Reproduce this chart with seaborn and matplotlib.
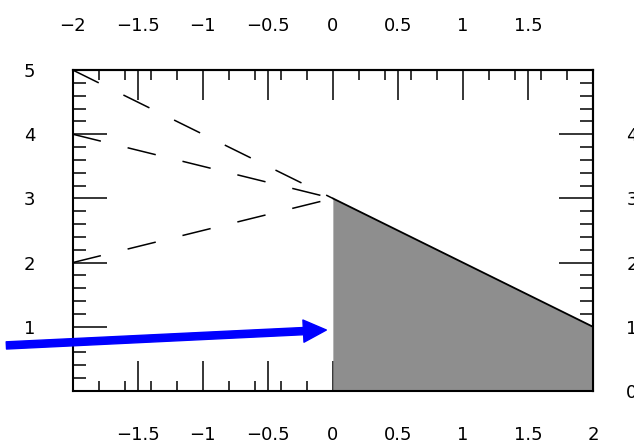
import matplotlib
matplotlib.use("Agg")
import matplotlib.pyplot as plt
import seaborn as sns
from matplotlib.ticker import MultipleLocator

# ---- data ----
x_upper = [-2.0, 0.0]
y_upper = [5.0, 3.0]
x_middle = [-2.0, 0.0]
y_middle = [4.0, 3.0]
x_lower = [-2.0, 0.0]
y_lower = [2.0, 3.0]
x_region = [0.0, 2.0]
y_region = [3.0, 1.0]

x_major = [-2, -1.5, -1, -0.5, 0, 0.5, 1, 1.5, 2]
y_major = [0, 1, 2, 3, 4, 5]
bottom_labels = [-1.5, -1, -0.5, 0, 0.5, 1, 1.5, 2]
top_labels = [-2, -1.5, -1, -0.5, 0, 0.5, 1, 1.5]
left_labels = [1, 2, 3, 4, 5]
right_labels = [0, 1, 2, 3, 4]

arrow_tail = (-2.51, 0.71)
arrow_head = (-0.05, 0.95)


def fmt(v):
    return f"{v:g}".replace("-", "\u2212")


def labels_for(ticks, shown):
    return [fmt(t) if t in shown else "" for t in ticks]


sns.set_style("white")
plt.rcParams["font.family"] = ["DejaVu Sans"]

fig = plt.figure(figsize=(6.34, 4.44), dpi=100)
ax = fig.add_axes([72.7 / 634, 1 - 391 / 444, (593 - 72.7) / 634, (391 - 70) / 444])
ax.set_xlim(-2, 2)
ax.set_ylim(0, 5)

dash = (0, (19, 18))
sns.lineplot(x=x_upper, y=y_upper, ax=ax, color="black", linewidth=1.1, linestyle=dash)
sns.lineplot(x=x_middle, y=y_middle, ax=ax, color="black", linewidth=1.1, linestyle=dash)
sns.lineplot(x=x_lower, y=y_lower, ax=ax, color="black", linewidth=1.1, linestyle=dash)

ax.fill_between(x_region, y_region, 0, color="#8e8e8e", linewidth=0, zorder=1)
sns.lineplot(x=x_region, y=y_region, ax=ax, color="black", linewidth=1.3)

ax.annotate("", xy=arrow_head, xytext=arrow_tail, xycoords="data", textcoords="data",
            annotation_clip=False,
            arrowprops=dict(arrowstyle="simple,head_width=1.6,head_length=1.65,tail_width=0.52",
                            mutation_scale=10, color="#0000ff", shrinkA=0, shrinkB=0))

for s in ax.spines.values():
    s.set_visible(True)
    s.set_linewidth(1.5)
    s.set_color("black")

label_font = 13
tick_w = 1.1

# bottom / left
ax.set_xticks(x_major, labels=labels_for(x_major, bottom_labels))
ax.set_yticks(y_major, labels=labels_for(y_major, left_labels))
ax.xaxis.set_minor_locator(MultipleLocator(0.2))
ax.yaxis.set_minor_locator(MultipleLocator(0.2))
ax.tick_params(axis="x", which="major", direction="in", length=21.6, width=tick_w,
               pad=25, labelsize=label_font, top=False, bottom=True, color="black",
               labelcolor="black")
ax.tick_params(axis="x", which="minor", direction="in", length=7.2, width=tick_w,
               top=False, bottom=True, color="black")
ax.tick_params(axis="y", which="major", direction="in", length=24.5, width=tick_w,
               pad=27, labelsize=label_font, left=True, right=False, color="black",
               labelcolor="black")
ax.tick_params(axis="y", which="minor", direction="in", length=9.4, width=tick_w,
               left=True, right=False, color="black")

# top
secx = ax.secondary_xaxis("top")
secx.set_xticks(x_major, labels=labels_for(x_major, top_labels))
secx.xaxis.set_minor_locator(MultipleLocator(0.2))
secx.tick_params(axis="x", which="major", direction="in", length=21.6, width=tick_w,
                 pad=25, labelsize=label_font, color="black", labelcolor="black")
secx.tick_params(axis="x", which="minor", direction="in", length=7.2, width=tick_w, color="black")
secx.spines["top"].set_linewidth(1.5)

# right
secy = ax.secondary_yaxis("right")
secy.set_yticks(y_major, labels=labels_for(y_major, right_labels))
secy.yaxis.set_minor_locator(MultipleLocator(0.2))
secy.tick_params(axis="y", which="major", direction="in", length=24.5, width=tick_w,
                 pad=24, labelsize=label_font, color="black", labelcolor="black")
secy.tick_params(axis="y", which="minor", direction="in", length=9.4, width=tick_w, color="black")
secy.spines["right"].set_linewidth(1.5)

ax.set_xlabel("")
ax.set_ylabel("")

fig.savefig("out.png", dpi=100, facecolor="white")
